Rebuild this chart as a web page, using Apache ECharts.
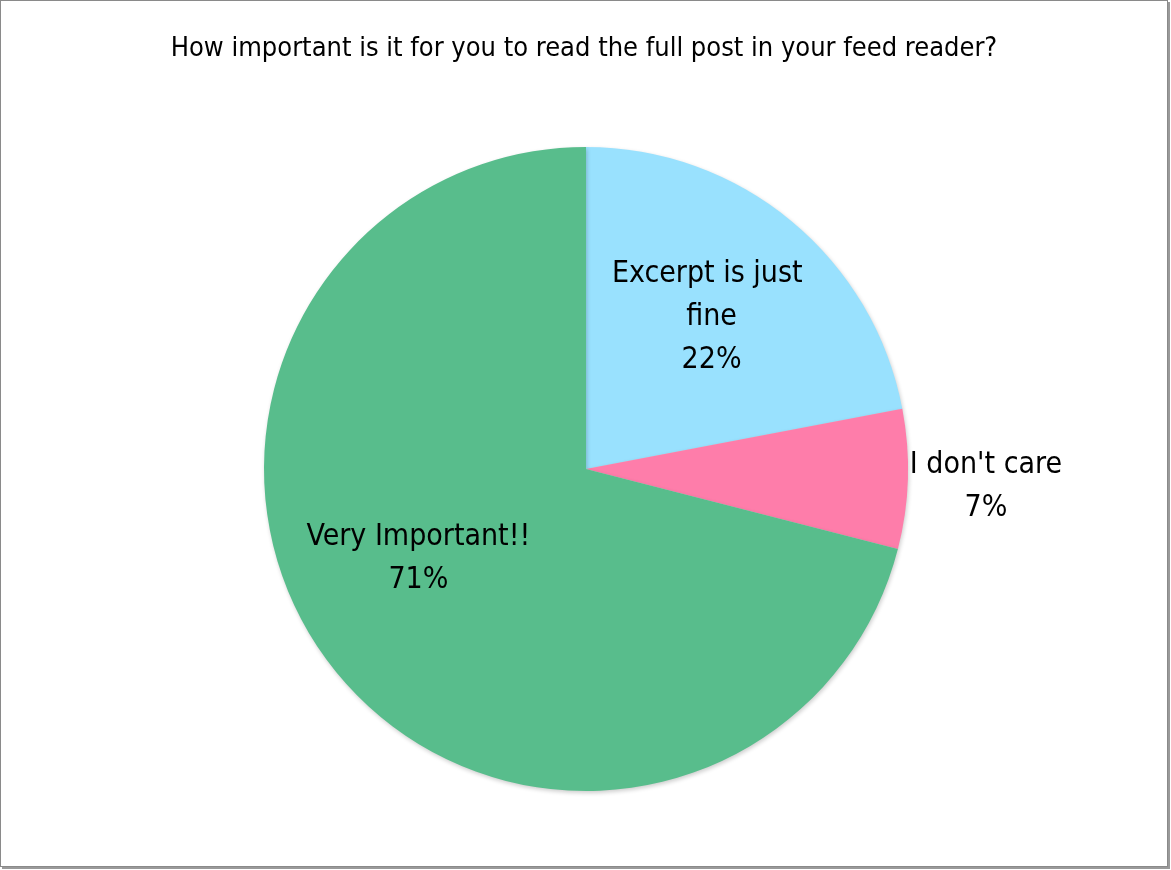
<!DOCTYPE html>
<html>
<head>
<meta charset="utf-8">
<script src="https://cdn.jsdelivr.net/npm/echarts@6/dist/echarts.min.js"></script>
<style>
html,body{margin:0;padding:0;background:#fff;}
#frame{position:absolute;left:0;top:0;width:1166px;height:865px;border:1px solid #8a8a8a;box-shadow:2px 2px 0 #9a9a9a;}
#chart{width:1166px;height:865px;}
</style>
</head>
<body>
<div id="frame"><div id="chart"></div></div>
<script>
const titleText = 'How important is it for you to read the full post in your feed reader?';
const categories = ['Excerpt is just fine', "I don't care", 'Very Important!!'];
const values = [22, 7, 71];
const colors = ['#99e1fe', '#fe7daa', '#58bd8c'];

const FONT = '"DejaVu Sans Condensed", "Liberation Sans Narrow", sans-serif';

const labelStyles = [
  { position: 'inside', width: 215, overflow: 'break', offset: [21, -25] },
  { position: 'inside', offset: [236, 13] },
  { position: 'inside', width: 260, overflow: 'break', offset: [-38, -11] }
];

const chart = echarts.init(document.getElementById('chart'), null, { renderer: 'canvas' });
chart.setOption({
  animation: false,
  backgroundColor: '#ffffff',
  title: {
    text: titleText,
    left: 'center',
    top: 29,
    textStyle: { fontFamily: FONT, fontSize: 27, fontWeight: 'normal', color: '#000' }
  },
  series: [{
    type: 'pie',
    center: [585, 468],
    radius: [0, 322],
    startAngle: 90,
    clockwise: true,
    percentPrecision: 0,
    avoidLabelOverlap: false,
    labelLine: { show: false },
    itemStyle: {
      shadowBlur: 4,
      shadowOffsetX: 1,
      shadowOffsetY: 2,
      shadowColor: 'rgba(0,0,0,0.2)'
    },
    label: {
      fontFamily: FONT,
      fontSize: 30,
      lineHeight: 43,
      color: '#000',
      align: 'center',
      formatter: '{b}\n{d}%'
    },
    data: categories.map((c, i) => ({
      name: c,
      value: values[i],
      itemStyle: { color: colors[i] },
      label: labelStyles[i]
    }))
  }]
});
</script>
</body>
</html>
